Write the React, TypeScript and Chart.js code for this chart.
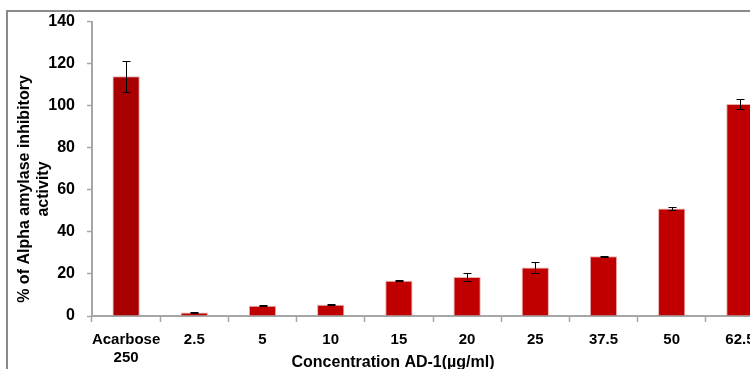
import React, { useEffect, useRef } from "react";
import { Chart, registerables } from "chart.js";

Chart.register(...registerables);

const categories: (string | string[])[] = [
  ["Acarbose", "250"],
  "2.5",
  "5",
  "10",
  "15",
  "20",
  "25",
  "37.5",
  "50",
  "62.5",
];
const inhibition = [114.0, 1.7, 4.9, 5.3, 16.8, 18.5, 23.1, 28.4, 51.1, 100.8];
const errors = [7.3, 0.3, 0.2, 0.3, 0.2, 2.0, 2.7, 0.3, 0.9, 2.4];
const barColors = ["#A80000", "#C00000", "#C00000", "#C00000", "#C00000", "#C00000", "#C00000", "#C00000", "#C00000", "#C00000"];
const yTitleLines = ["% of Alpha amylase inhibitory", "activity"];
const xTitle = "Concentration AD-1(µg/ml)";

const FONT = '"Liberation Sans", Arial, sans-serif';

const framePlugin = {
  id: "frame",
  beforeDraw(chart: any) {
    const ctx = chart.ctx;
    ctx.save();
    ctx.fillStyle = "#ffffff";
    ctx.fillRect(0, 0, chart.width, chart.height);
    ctx.strokeStyle = "#8a8a8a";
    ctx.lineWidth = 2;
    ctx.strokeRect(7, 11, 776, 380);
    ctx.restore();
  },
};

const errorBarPlugin = {
  id: "errorBars",
  afterDatasetsDraw(chart: any) {
    const ctx = chart.ctx;
    const meta = chart.getDatasetMeta(0);
    const y = chart.scales.y;
    ctx.save();
    ctx.strokeStyle = "#000000";
    ctx.lineWidth = 1;
    meta.data.forEach((bar: any, i: number) => {
      const v = inhibition[i];
      const e = errors[i];
      const x = Math.round(bar.x) + 0.5;
      const yTop = Math.round(y.getPixelForValue(v + e)) + 0.5;
      const yBot = Math.round(y.getPixelForValue(v - e)) + 0.5;
      ctx.beginPath();
      ctx.moveTo(x, yTop);
      ctx.lineTo(x, yBot);
      ctx.moveTo(x - 4, yTop);
      ctx.lineTo(x + 4, yTop);
      ctx.moveTo(x - 4, yBot);
      ctx.lineTo(x + 4, yBot);
      ctx.stroke();
    });
    ctx.restore();
  },
};

const titlePlugin = {
  id: "axisTitles",
  afterDraw(chart: any) {
    const ctx = chart.ctx;
    ctx.save();
    ctx.fillStyle = "#000000";
    ctx.font = `bold 16px ${FONT}`;
    ctx.textAlign = "center";
    ctx.textBaseline = "alphabetic";
    ctx.fillText(xTitle, 393, 367);
    ctx.translate(0, 189);
    ctx.rotate(-Math.PI / 2);
    ctx.textBaseline = "middle";
    ctx.fillText(yTitleLines[0], 0, 25);
    ctx.fillText(yTitleLines[1], 0, 44);
    ctx.restore();
  },
};

export default function App() {
  const canvasRef = useRef<HTMLCanvasElement | null>(null);

  useEffect(() => {
    if (!canvasRef.current) return;
    const chart = new Chart(canvasRef.current, {
      type: "bar",
      data: {
        labels: categories,
        datasets: [
          {
            data: inhibition,
            backgroundColor: barColors,
            borderColor: "rgba(220,120,120,0.6)",
            borderWidth: 1,
            barPercentage: 0.4,
            categoryPercentage: 1,
          },
        ],
      },
      options: {
        animation: false,
        responsive: true,
        maintainAspectRatio: false,
        layout: { padding: { left: 0, top: 20, right: 26, bottom: 0 } },
        plugins: {
          legend: { display: false },
          tooltip: { enabled: false },
          title: { display: false },
        },
        scales: {
          x: {
            type: "category",
            offset: true,
            grid: {
              display: true,
              offset: true,
              drawOnChartArea: false,
              drawTicks: true,
              tickLength: 6,
              tickWidth: 1.5,
              tickColor: "#a6a6a6",
              color: "#a6a6a6",
            },
            border: { display: true, color: "#a6a6a6", width: 2 },
            ticks: {
              color: "#000000",
              font: { family: FONT, size: 15, weight: "bold", lineHeight: 1.25 },
              padding: 8,
              maxRotation: 0,
              autoSkip: false,
            },
            afterFit(scale: any) {
              scale.height = 84;
            },
          },
          y: {
            min: 0,
            max: 140,
            ticks: {
              stepSize: 20,
              color: "#000000",
              font: { family: FONT, size: 16, weight: "bold" },
              padding: 12,
            },
            grid: {
              display: true,
              drawOnChartArea: false,
              drawTicks: true,
              tickLength: 5,
              tickWidth: 1.5,
              tickColor: "#a6a6a6",
              color: "#a6a6a6",
            },
            border: { display: true, color: "#a6a6a6", width: 2 },
            afterFit(scale: any) {
              scale.width = 92;
            },
          },
        },
      },
      plugins: [framePlugin, errorBarPlugin, titlePlugin],
    });
    return () => chart.destroy();
  }, []);

  return (
    <div
      style={{
        position: "fixed",
        left: 0,
        top: 0,
        width: 750,
        height: 369,
        overflow: "hidden",
        background: "#ffffff",
      }}
    >
      <div style={{ position: "relative", width: 800, height: 400 }}>
        <canvas ref={canvasRef} />
      </div>
    </div>
  );
}
